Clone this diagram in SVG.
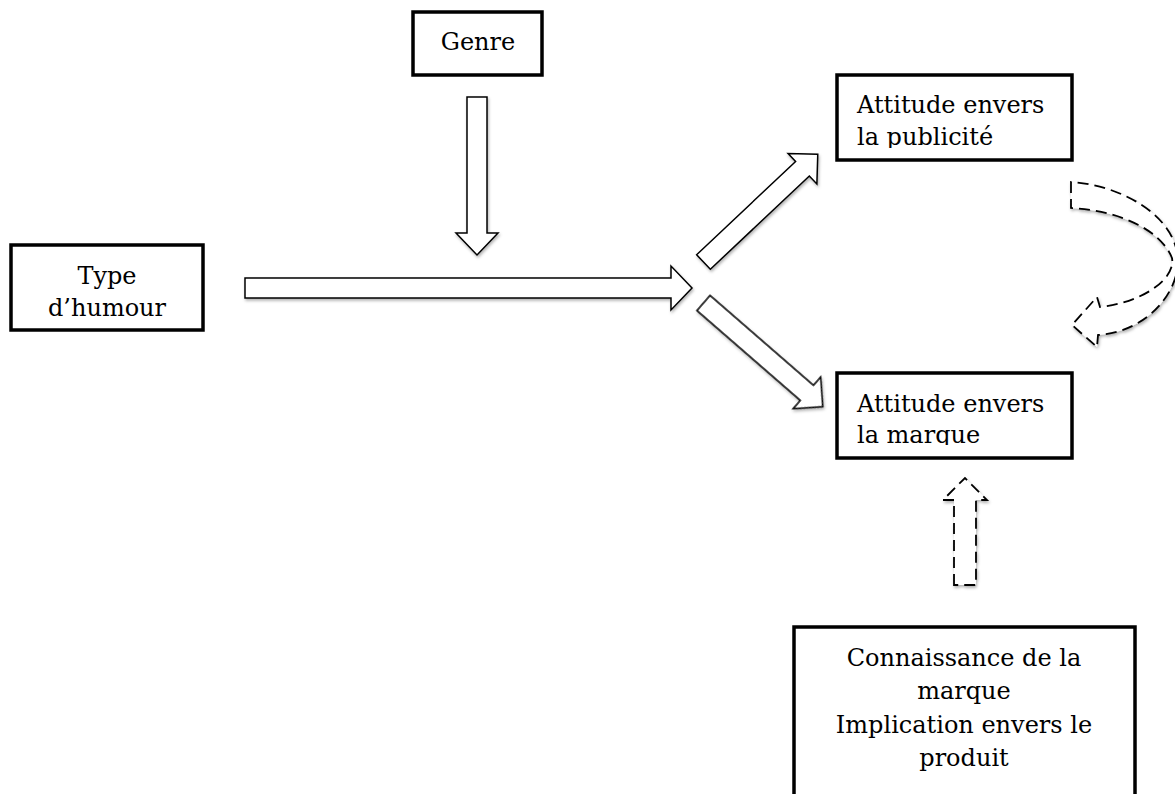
<svg xmlns="http://www.w3.org/2000/svg" width="1175" height="794" viewBox="0 0 1175 794">
<style>
.box{fill:#fff;stroke:#000;stroke-width:3.5}
.lbl{font-family:"DejaVu Serif","Liberation Serif",serif;font-size:24px;fill:#000}
.mid{text-anchor:middle}
.arr{fill:#fff;stroke:#000;stroke-width:1.5;stroke-linejoin:miter}
.dash{fill:#fff;stroke:#000;stroke-width:1.8;stroke-dasharray:11 6;stroke-linejoin:miter}
</style>
<defs>
<filter id="sh" x="-20%" y="-20%" width="140%" height="140%">
<feDropShadow dx="1" dy="2" stdDeviation="1.5" flood-color="#000" flood-opacity="0.3"/>
</filter>
<clipPath id="c1"><rect x="837" y="75" width="235" height="73"/></clipPath>
<clipPath id="c2"><rect x="837" y="373" width="235" height="72"/></clipPath>
</defs>
<rect width="1175" height="794" fill="#fff"/>
<g id="connectors" filter="url(#sh)">
<path class="arr" d="M467,97 L487,97 L487,233 L498,233 L477,255 L456,233 L467,233 Z"/>
<path class="arr" d="M245,278 L671,278 L671,266 L692,288 L671,310 L671,298 L245,298 Z"/>
<path class="arr" transform="translate(703.5,262) rotate(-43.3)" d="M0,-10 L136,-10 L136,-21 L157,0 L136,21 L136,10 L0,10 Z"/>
<path class="arr" transform="translate(703.5,303) rotate(41)" d="M0,-10 L137,-10 L137,-21 L158,0 L137,21 L137,10 L0,10 Z"/>
<path class="dash" d="M954,585 L954,500 L943,500 L965,478 L987,500 L976,500 L976,585 Z"/>
<path class="dash" d="M1071,182 L1071,208 C1115,210 1160,228 1172,258 C1176,280 1140,303 1100,307 L1097,297 L1072,325 L1097,347 L1098,335 C1145,332 1178,295 1178,260 C1176,215 1120,185 1071,182 Z"/>
</g>
<g id="genre">
<rect class="box" x="413" y="12" width="129" height="63"/>
<text class="lbl mid" x="478" y="50">Genre</text>
</g>
<g id="type-humour">
<rect class="box" x="11" y="245" width="192" height="85"/>
<text class="lbl mid" x="107" y="284">Type</text>
<text class="lbl mid" x="107" y="316">d’humour</text>
</g>
<g id="attitude-pub">
<rect class="box" x="837" y="75" width="235" height="85"/>
<g clip-path="url(#c1)">
<text class="lbl" x="857" y="113">Attitude envers</text>
<text class="lbl" x="857" y="145">la publicité</text>
</g>
</g>
<g id="attitude-marque">
<rect class="box" x="837" y="373" width="235" height="85"/>
<g clip-path="url(#c2)">
<text class="lbl" x="857" y="412">Attitude envers</text>
<text class="lbl" x="857" y="443">la marque</text>
</g>
</g>
<g id="connaissance">
<rect class="box" x="794" y="627" width="341" height="200"/>
<text class="lbl mid" x="964" y="666">Connaissance de la</text>
<text class="lbl mid" x="964" y="699">marque</text>
<text class="lbl mid" x="964" y="733">Implication envers le</text>
<text class="lbl mid" x="964" y="766">produit</text>
</g>
</svg>
